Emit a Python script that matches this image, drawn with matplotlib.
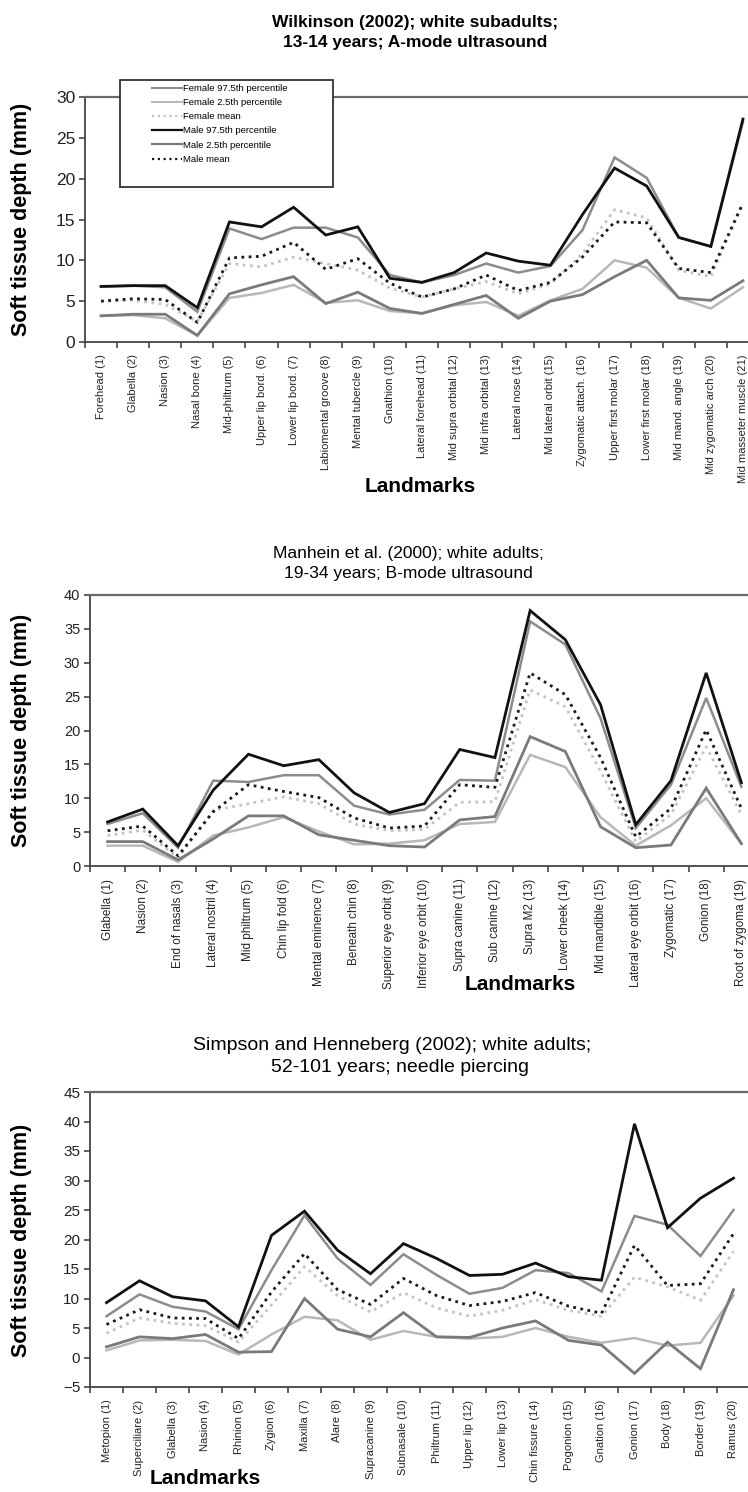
import matplotlib
matplotlib.use("Agg")
import matplotlib.pyplot as plt
from matplotlib.patches import Rectangle
from matplotlib.lines import Line2D
from matplotlib.ticker import FixedLocator, MultipleLocator

plt.rcParams['font.family'] = ['Liberation Sans', 'DejaVu Sans']

W, H = 748, 1492

# -----------------------------
# DATA
# -----------------------------
# Wilkinson (2002)
wil_labels = ["Forehead (1)", "Glabella (2)", "Nasion (3)", "Nasal bone (4)", "Mid-philtrum (5)",
              "Upper lip bord. (6)", "Lower lip bord. (7)", "Labiomental groove (8)", "Mental tubercle (9)",
              "Gnathion (10)", "Lateral forehead (11)", "Mid supra orbital (12)", "Mid infra orbital (13)",
              "Lateral nose (14)", "Mid lateral orbit (15)", "Zygomatic attach. (16)", "Upper first molar (17)",
              "Lower first molar (18)", "Mid mand. angle (19)", "Mid zygomatic arch (20)", "Mid masseter muscle (21)"]
wil_f975 = [6.8, 6.9, 6.7, 3.7, 13.9, 12.6, 14.0, 14.0, 12.8, 8.2, 7.3, 8.2, 9.6, 8.5, 9.3, 13.7, 22.6, 20.1, 12.8, 11.7, 27.0]
wil_f25 = [3.2, 3.3, 2.9, 0.8, 5.4, 6.0, 7.0, 4.8, 5.1, 3.8, 3.5, 4.5, 4.9, 3.2, 5.1, 6.5, 10.0, 9.1, 5.4, 4.1, 6.7]
wil_fmean = [5.0, 5.1, 4.6, 2.5, 9.6, 9.2, 10.4, 9.6, 8.8, 6.6, 5.5, 6.5, 7.4, 5.9, 7.1, 10.8, 16.2, 15.2, 8.8, 8.0, 17.0]
wil_m975 = [6.8, 6.9, 6.9, 4.2, 14.7, 14.1, 16.5, 13.1, 14.1, 7.8, 7.3, 8.5, 10.9, 9.9, 9.4, 15.6, 21.3, 19.1, 12.8, 11.7, 27.3]
wil_m25 = [3.2, 3.4, 3.4, 0.8, 5.9, 7.0, 8.0, 4.7, 6.1, 4.1, 3.5, 4.6, 5.7, 2.9, 5.0, 5.8, 8.0, 10.0, 5.4, 5.1, 7.5]
wil_mmean = [5.0, 5.3, 5.2, 2.4, 10.3, 10.5, 12.2, 8.9, 10.2, 7.2, 5.5, 6.5, 8.2, 6.3, 7.3, 10.4, 14.7, 14.6, 9.0, 8.5, 17.0]

# Manhein et al. (2000)
man_labels = ["Glabella (1)", "Nasion (2)", "End of nasals (3)", "Lateral nostril (4)", "Mid philtrum (5)",
              "Chin lip fold (6)", "Mental eminence (7)", "Beneath chin (8)", "Superior eye orbit (9)",
              "Inferior eye orbit (10)", "Supra canine (11)", "Sub canine (12)", "Supra M2 (13)",
              "Lower cheek (14)", "Mid mandible (15)", "Lateral eye orbit (16)", "Zygomatic (17)",
              "Gonion (18)", "Root of zygoma (19)"]
man_f975 = [6.2, 7.8, 2.7, 12.6, 12.4, 13.4, 13.4, 8.9, 7.6, 8.3, 12.7, 12.6, 36.1, 32.7, 21.8, 5.6, 12.0, 24.8, 11.7]
man_f25 = [3.0, 3.0, 0.6, 4.5, 5.7, 7.2, 5.1, 3.2, 3.3, 3.8, 6.2, 6.5, 16.4, 14.6, 7.2, 3.0, 6.0, 10.0, 3.3]
man_fmean = [4.5, 5.3, 1.2, 8.2, 9.2, 10.2, 9.2, 6.2, 5.2, 5.4, 9.4, 9.5, 26.0, 23.5, 14.0, 3.6, 7.6, 17.6, 7.6]
man_m975 = [6.5, 8.4, 3.0, 11.2, 16.5, 14.8, 15.7, 10.8, 7.9, 9.2, 17.2, 16.0, 37.7, 33.4, 23.8, 6.1, 12.6, 28.5, 12.3]
man_m25 = [3.6, 3.6, 0.9, 4.0, 7.4, 7.4, 4.6, 3.8, 3.0, 2.8, 6.8, 7.3, 19.1, 16.9, 5.8, 2.7, 3.1, 11.5, 3.3]
man_mmean = [5.2, 5.9, 1.5, 8.0, 12.0, 11.0, 10.1, 7.1, 5.6, 5.9, 12.0, 11.6, 28.5, 25.3, 16.0, 4.3, 8.5, 20.1, 8.5]

# Simpson and Henneberg (2002)
sim_labels = ["Metopion (1)", "Superciliare (2)", "Glabella (3)", "Nasion (4)", "Rhinion (5)", "Zygion (6)",
              "Maxilla (7)", "Alare (8)", "Supracanine (9)", "Subnasale (10)", "Philtrum (11)", "Upper lip (12)",
              "Lower lip (13)", "Chin fissure (14)", "Pogonion (15)", "Gnation (16)", "Gonion (17)",
              "Body (18)", "Border (19)", "Ramus (20)"]
sim_f975 = [7.0, 10.7, 8.6, 7.8, 4.8, 14.8, 24.1, 16.8, 12.3, 17.5, 14.0, 10.8, 11.8, 14.8, 14.3, 11.2, 24.0, 22.5, 17.2, 25.0]
sim_f25 = [1.2, 2.9, 3.0, 2.8, 0.5, 3.9, 6.9, 6.3, 3.0, 4.5, 3.5, 3.2, 3.5, 5.0, 3.5, 2.5, 3.3, 2.0, 2.5, 10.5]
sim_fmean = [4.1, 6.7, 5.8, 5.4, 2.6, 8.9, 15.4, 10.5, 7.7, 11.0, 8.4, 7.0, 8.0, 9.8, 8.0, 7.0, 13.6, 12.0, 9.7, 18.0]
sim_m975 = [9.3, 13.0, 10.3, 9.6, 5.2, 20.7, 24.8, 18.2, 14.2, 19.3, 16.8, 13.9, 14.1, 16.0, 13.7, 13.1, 39.6, 22.0, 27.0, 30.4]
sim_m25 = [1.8, 3.5, 3.2, 3.9, 0.9, 1.0, 10.0, 4.8, 3.5, 7.6, 3.5, 3.4, 5.0, 6.2, 2.9, 2.1, -2.7, 2.6, -1.9, 11.5]
sim_mmean = [5.6, 8.1, 6.7, 6.6, 3.2, 11.1, 17.6, 11.5, 9.0, 13.4, 10.5, 8.8, 9.5, 11.0, 8.7, 7.5, 19.0, 12.2, 12.5, 21.0]

series_names = ["Female 97.5th percentile", "Female 2.5th percentile", "Female mean",
                "Male 97.5th percentile", "Male 2.5th percentile", "Male mean"]

# -----------------------------
# STYLES
# -----------------------------
DOT = (0, (1.0, 1.6))
styles = [
    dict(color="#8c8c8c", lw=1.8, ls="-"),
    dict(color="#b8b8b8", lw=1.8, ls="-"),
    dict(color="#c4c4c4", lw=2.0, ls=DOT),
    dict(color="#111111", lw=2.0, ls="-"),
    dict(color="#7a7a7a", lw=2.0, ls="-"),
    dict(color="#1a1a1a", lw=2.0, ls=DOT),
]

fig = plt.figure(figsize=(W / 100, H / 100), dpi=100)


def px_axes(left, top, right, bottom):
    return fig.add_axes([left / W, 1 - bottom / H, (right - left) / W, (bottom - top) / H])


def fig_text(x, y, s, **kw):
    fig.text(x / W, 1 - y / H, s, **kw)


def draw_panel(ax, labels, data, ylim, ystep, ytick_size, xtick_size):
    n = len(labels)
    x = list(range(1, n + 1))
    for vals, st in zip(data, styles):
        ax.plot(x, vals, color=st["color"], lw=st["lw"], ls=st["ls"],
                solid_joinstyle="miter", clip_on=False)
    ax.set_xlim(0.5, n + 0.5)
    ax.set_ylim(*ylim)
    ax.yaxis.set_major_locator(MultipleLocator(ystep))
    ax.set_xticks(x)
    ax.set_xticklabels(labels, rotation=90, fontsize=xtick_size, color="#222222")
    ax.xaxis.set_minor_locator(FixedLocator([i + 0.5 for i in range(n + 1)]))
    ax.tick_params(axis="x", which="major", length=0, pad=9)
    ax.tick_params(axis="x", which="minor", length=4, width=1.2, color="#444444")
    ax.tick_params(axis="y", length=4, width=1.2, color="#444444", labelsize=ytick_size,
                   labelcolor="#222222", pad=3)
    ax.spines["right"].set_visible(False)
    for s in ("left", "bottom"):
        ax.spines[s].set_color("#444444")
        ax.spines[s].set_linewidth(1.3)
    ax.spines["top"].set_color("#6a6a6a")
    ax.spines["top"].set_linewidth(1.6)
    ax.set_facecolor("white")


# -----------------------------
# PANEL 1 - Wilkinson
# -----------------------------
ax1 = px_axes(85, 97, 759, 342)
draw_panel(ax1, wil_labels, [wil_f975, wil_f25, wil_fmean, wil_m975, wil_m25, wil_mmean],
           (0, 30), 5, 12.5, 8)
fig_text(415, 22, "Wilkinson (2002); white subadults;", ha="center", va="center",
         fontsize=12.5, fontweight="bold")
fig_text(415, 43, "13-14 years; A-mode ultrasound", ha="center", va="center",
         fontsize=12.5, fontweight="bold")
fig_text(420, 487, "Landmarks", ha="center", va="center", fontsize=15, fontweight="bold")
fig_text(22, 219, "Soft tissue depth (mm)", ha="center", va="center", rotation=90,
         fontsize=15.5, fontweight="bold")

# legend box
fig.patches.append(Rectangle((120 / W, 1 - 187 / H), 213 / W, 107 / H, transform=fig.transFigure,
                             facecolor="white", edgecolor="#333333", lw=1.3, zorder=3))
handles = [Line2D([], [], color=st["color"], lw=st["lw"] * 0.8, ls=st["ls"]) for st in styles]
fig.legend(handles, series_names, loc="upper left", bbox_to_anchor=(150 / W, 1 - 82 / H),
           frameon=False, fontsize=6.8, handlelength=3.2, handletextpad=0.1,
           labelspacing=0.55, borderpad=0.2, borderaxespad=0).set_zorder(4)

# -----------------------------
# PANEL 2 - Manhein
# -----------------------------
ax2 = px_axes(90, 595, 759, 866)
draw_panel(ax2, man_labels, [man_f975, man_f25, man_fmean, man_m975, man_m25, man_mmean],
           (0, 40), 5, 10.5, 8.5)
narrow = ["Liberation Sans Narrow", "Liberation Sans", "DejaVu Sans"]
fig_text(408, 553, "Manhein et al. (2000); white adults;", ha="center", va="center",
         fontsize=12.5, family=narrow)
fig_text(408, 574, "19-34 years; B-mode ultrasound", ha="center", va="center",
         fontsize=12.5, family=narrow)
fig_text(520, 985, "Landmarks", ha="center", va="center", fontsize=15, fontweight="bold")
fig_text(22, 730, "Soft tissue depth (mm)", ha="center", va="center", rotation=90,
         fontsize=15.5, fontweight="bold")

# -----------------------------
# PANEL 3 - Simpson and Henneberg
# -----------------------------
ax3 = px_axes(90, 1092, 750, 1387)
draw_panel(ax3, sim_labels, [sim_f975, sim_f25, sim_fmean, sim_m975, sim_m25, sim_mmean],
           (-5, 45), 5, 11, 8)
fig_text(392, 1045, "Simpson and Henneberg (2002); white adults;", ha="center", va="center",
         fontsize=14)
fig_text(400, 1068, "52-101 years; needle piercing", ha="center", va="center", fontsize=14)
fig_text(205, 1478, "Landmarks", ha="center", va="center", fontsize=15, fontweight="bold")
fig_text(22, 1240, "Soft tissue depth (mm)", ha="center", va="center", rotation=90,
         fontsize=15.5, fontweight="bold")

fig.savefig("out.png", dpi=100, facecolor="white")
